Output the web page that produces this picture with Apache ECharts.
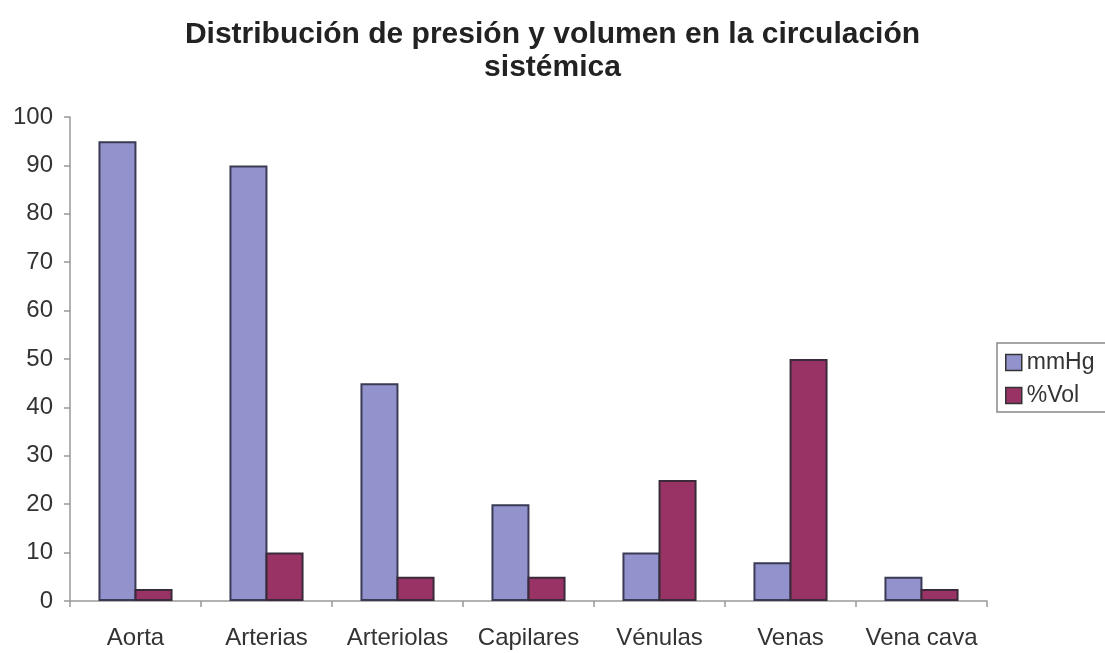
<!DOCTYPE html>
<html><head><meta charset="utf-8">
<script src="https://cdn.jsdelivr.net/npm/echarts@6/dist/echarts.min.js"></script>
<style>html,body{margin:0;padding:0;background:#fff}#c{width:1105px;height:653px}</style>
</head><body><div id="c"></div>
<script>
const categories = ['Aorta','Arterias','Arteriolas','Capilares','Vénulas','Venas','Vena cava'];
const mmHg = [95, 90, 45, 20, 10, 8, 5];
const vol = [2.5, 10, 5, 5, 25, 50, 2.5];
const seriesNames = ['mmHg', '%Vol'];
const chart = echarts.init(document.getElementById('c'));
const font = 'Liberation Sans, Arial, sans-serif';
chart.setOption({
  backgroundColor: '#fff',
  animation: false,
  title: {
    text: 'Distribución de presión y volumen en la circulación\nsistémica',
    left: 'center', top: 13,
    textStyle: {fontFamily: font, fontSize: 30, fontWeight: 'bold', color: '#222', lineHeight: 33}
  },
  legend: {
    data: seriesNames,
    orient: 'vertical',
    left: 997, top: 343,
    padding: [8, 40, 5, 8],
    itemGap: 10,
    itemWidth: 16, itemHeight: 16,
    icon: 'rect',
    borderColor: '#888', borderWidth: 1.5,
    itemStyle: {borderColor: '#333', borderWidth: 1.5},
    textStyle: {fontFamily: font, fontSize: 23, color: '#333', padding: [0,0,0,0]}
  },
  grid: {left: 70, right: 118, top: 117, bottom: 52, containLabel: false},
  xAxis: {
    type: 'category', data: categories,
    axisLine: {lineStyle: {color: '#999', width: 1.5}},
    axisTick: {show: true, length: 6, lineStyle: {color: '#999', width: 1.5}},
    axisLabel: {fontFamily: font, fontSize: 24, color: '#333', margin: 25, interval: 0}
  },
  yAxis: {
    type: 'value', min: 0, max: 100, interval: 10,
    splitLine: {show: false},
    axisLine: {show: true, lineStyle: {color: '#999', width: 1.5}},
    axisTick: {show: true, length: 6, lineStyle: {color: '#999', width: 1.5}},
    axisLabel: {fontFamily: font, fontSize: 24, color: '#333', margin: 17}
  },
  series: [
    {name: seriesNames[0], type: 'bar', data: mmHg, barWidth: 38, barGap: '-5%',
     itemStyle: {color: '#9292cc', borderColor: '#3a3a55', borderWidth: 2}},
    {name: seriesNames[1], type: 'bar', data: vol, barWidth: 38, barGap: '-5%',
     itemStyle: {color: '#993366', borderColor: '#3a2a3a', borderWidth: 2}}
  ]
});
</script></body></html>
